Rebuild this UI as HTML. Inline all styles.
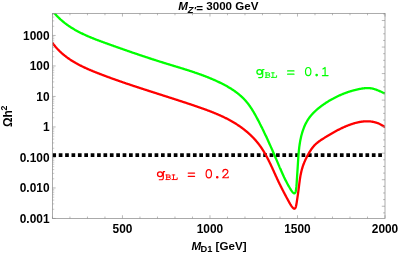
<!DOCTYPE html>
<html><head><meta charset="utf-8"><title>plot</title>
<style>
html,body{margin:0;padding:0;background:#fff;}
body{width:399px;height:254px;overflow:hidden;font-family:"Liberation Sans",sans-serif;}
svg{display:block;will-change:transform}
.lab text{font-family:"Liberation Sans",sans-serif;font-weight:bold;font-size:11.9px;fill:#000}
</style></head><body>
<svg width="399" height="254" viewBox="0 0 399 254">
<rect width="399" height="254" fill="#fff"/>
<defs><clipPath id="cp"><rect x="52.45" y="13.35" width="332.55" height="205.1"/></clipPath></defs>
<g clip-path="url(#cp)" fill="none" stroke-linejoin="round" stroke-linecap="butt">
<path d="M52.35 155.1 H382" stroke="#000" stroke-width="3.7" stroke-dasharray="3.7 2.69"/>
<path d="M52.50 10.77 L52.85 11.21 L53.20 11.65 L53.55 12.09 L53.91 12.53 L54.27 12.95 L54.63 13.38 L55.00 13.80 L55.37 14.22 L55.74 14.63 L56.11 15.04 L56.48 15.44 L56.86 15.85 L57.24 16.24 L57.63 16.64 L58.01 17.03 L58.40 17.41 L58.79 17.79 L59.18 18.17 L59.58 18.55 L59.97 18.92 L60.37 19.29 L60.78 19.65 L61.18 20.01 L61.59 20.37 L61.99 20.72 L62.40 21.07 L62.82 21.42 L63.23 21.76 L63.65 22.10 L64.07 22.44 L64.49 22.78 L64.91 23.11 L65.34 23.43 L65.76 23.76 L66.19 24.08 L66.62 24.40 L67.05 24.71 L67.49 25.02 L67.93 25.33 L68.36 25.64 L68.80 25.94 L69.25 26.24 L69.69 26.54 L70.14 26.84 L70.58 27.13 L71.03 27.42 L71.48 27.71 L71.93 27.99 L72.39 28.27 L72.84 28.55 L73.30 28.83 L73.76 29.10 L74.22 29.37 L74.68 29.64 L75.14 29.91 L75.61 30.17 L76.07 30.43 L76.54 30.69 L77.01 30.95 L77.48 31.20 L77.95 31.46 L78.42 31.71 L78.90 31.96 L79.37 32.20 L79.85 32.45 L80.33 32.69 L80.81 32.93 L81.29 33.17 L81.77 33.40 L82.25 33.64 L82.73 33.87 L83.22 34.10 L83.71 34.33 L84.19 34.56 L84.68 34.78 L85.17 35.01 L85.66 35.23 L86.15 35.45 L86.64 35.67 L87.13 35.89 L87.63 36.10 L88.12 36.32 L88.62 36.53 L89.11 36.74 L89.61 36.95 L90.11 37.16 L90.61 37.37 L91.11 37.57 L91.61 37.78 L92.11 37.98 L92.61 38.18 L93.11 38.38 L93.61 38.58 L94.11 38.78 L94.62 38.98 L95.12 39.18 L95.63 39.37 L96.13 39.57 L96.64 39.76 L97.14 39.96 L97.65 40.15 L98.16 40.34 L98.66 40.53 L99.17 40.72 L99.68 40.91 L100.19 41.10 L100.69 41.29 L101.20 41.48 L101.71 41.66 L102.22 41.85 L102.73 42.03 L103.24 42.22 L103.75 42.41 L104.26 42.59 L104.77 42.77 L105.28 42.96 L105.79 43.14 L106.30 43.33 L106.81 43.51 L107.32 43.69 L107.83 43.87 L108.34 44.06 L108.85 44.24 L109.35 44.42 L109.86 44.60 L110.37 44.79 L110.88 44.97 L111.39 45.15 L111.90 45.33 L112.41 45.51 L112.92 45.69 L113.43 45.88 L113.94 46.06 L114.45 46.24 L114.96 46.42 L115.47 46.60 L115.97 46.78 L116.48 46.96 L116.99 47.14 L117.50 47.32 L118.01 47.50 L118.52 47.68 L119.03 47.86 L119.54 48.04 L120.05 48.22 L120.55 48.40 L121.06 48.58 L121.57 48.76 L122.08 48.93 L122.59 49.11 L123.10 49.29 L123.61 49.47 L124.12 49.65 L124.62 49.82 L125.13 50.00 L125.64 50.18 L126.15 50.36 L126.66 50.53 L127.17 50.71 L127.68 50.89 L128.19 51.06 L128.69 51.24 L129.20 51.41 L129.71 51.59 L130.22 51.77 L130.73 51.94 L131.24 52.12 L131.75 52.29 L132.26 52.47 L132.77 52.64 L133.27 52.82 L133.78 52.99 L134.29 53.16 L134.80 53.34 L135.31 53.51 L135.82 53.68 L136.33 53.86 L136.84 54.03 L137.35 54.20 L137.86 54.38 L138.37 54.55 L138.88 54.72 L139.39 54.89 L139.90 55.06 L140.41 55.24 L140.92 55.41 L141.43 55.58 L141.94 55.75 L142.45 55.92 L142.96 56.09 L143.47 56.26 L143.98 56.43 L144.49 56.60 L145.00 56.77 L145.51 56.94 L146.02 57.11 L146.53 57.28 L147.04 57.45 L147.55 57.61 L148.06 57.78 L148.57 57.95 L149.09 58.12 L149.60 58.28 L150.11 58.45 L150.62 58.62 L151.13 58.78 L151.64 58.95 L152.15 59.12 L152.67 59.28 L153.18 59.45 L153.69 59.61 L154.20 59.78 L154.72 59.94 L155.23 60.11 L155.74 60.27 L156.25 60.44 L156.77 60.60 L157.28 60.76 L157.79 60.93 L158.31 61.09 L158.82 61.25 L159.33 61.42 L159.85 61.58 L160.36 61.74 L160.87 61.90 L161.39 62.06 L161.90 62.22 L162.42 62.39 L162.93 62.55 L163.45 62.71 L163.96 62.87 L164.48 63.03 L164.99 63.19 L165.51 63.35 L166.02 63.50 L166.54 63.66 L167.05 63.82 L167.57 63.98 L168.09 64.14 L168.60 64.30 L169.12 64.45 L169.64 64.61 L170.15 64.77 L170.67 64.93 L171.19 65.08 L171.70 65.24 L172.22 65.40 L172.74 65.55 L173.25 65.71 L173.77 65.87 L174.29 66.03 L174.80 66.18 L175.32 66.34 L175.84 66.50 L176.35 66.66 L176.87 66.81 L177.39 66.97 L177.91 67.13 L178.42 67.29 L178.94 67.44 L179.46 67.60 L179.97 67.76 L180.49 67.92 L181.01 68.08 L181.52 68.24 L182.04 68.40 L182.56 68.56 L183.07 68.72 L183.59 68.88 L184.10 69.04 L184.62 69.20 L185.13 69.37 L185.65 69.53 L186.17 69.69 L186.68 69.85 L187.20 70.02 L187.71 70.18 L188.23 70.35 L188.74 70.51 L189.25 70.68 L189.77 70.85 L190.28 71.01 L190.80 71.18 L191.31 71.35 L191.82 71.52 L192.33 71.69 L192.85 71.86 L193.36 72.03 L193.87 72.20 L194.38 72.37 L194.89 72.55 L195.41 72.72 L195.92 72.90 L196.43 73.07 L196.94 73.25 L197.45 73.43 L197.96 73.60 L198.46 73.78 L198.97 73.96 L199.48 74.14 L199.99 74.33 L200.50 74.51 L201.00 74.69 L201.51 74.88 L202.02 75.06 L202.52 75.25 L203.03 75.44 L203.53 75.63 L204.04 75.82 L204.54 76.01 L205.05 76.20 L205.55 76.40 L206.05 76.59 L206.55 76.79 L207.06 76.99 L207.56 77.18 L208.06 77.38 L208.56 77.58 L209.06 77.79 L209.56 77.99 L210.06 78.20 L210.55 78.40 L211.05 78.61 L211.55 78.82 L212.05 79.03 L212.54 79.24 L213.04 79.45 L213.53 79.67 L214.03 79.88 L214.52 80.10 L215.01 80.32 L215.50 80.54 L215.99 80.76 L216.49 80.99 L216.98 81.21 L217.47 81.44 L217.95 81.67 L218.44 81.90 L218.93 82.13 L219.42 82.36 L219.90 82.60 L220.39 82.84 L220.87 83.07 L221.36 83.32 L221.84 83.56 L222.32 83.80 L222.80 84.05 L223.28 84.30 L223.76 84.54 L224.24 84.80 L224.72 85.05 L225.19 85.31 L225.67 85.56 L226.14 85.82 L226.61 86.09 L227.08 86.35 L227.55 86.62 L228.02 86.89 L228.48 87.16 L228.95 87.43 L229.41 87.71 L229.87 87.99 L230.33 88.27 L230.78 88.55 L231.24 88.84 L231.69 89.13 L232.14 89.42 L232.59 89.71 L233.04 90.01 L233.48 90.31 L233.93 90.61 L234.37 90.91 L234.80 91.22 L235.24 91.53 L235.67 91.85 L236.10 92.16 L236.53 92.48 L236.96 92.80 L237.38 93.13 L237.80 93.46 L238.22 93.79 L238.63 94.12 L239.05 94.46 L239.46 94.80 L239.86 95.15 L240.27 95.49 L240.67 95.85 L241.06 96.20 L241.46 96.56 L241.85 96.92 L242.24 97.28 L242.62 97.65 L243.00 98.02 L243.38 98.40 L243.76 98.78 L244.13 99.16 L244.49 99.55 L244.86 99.94 L245.22 100.33 L245.57 100.73 L245.93 101.13 L246.28 101.54 L246.62 101.95 L246.96 102.36 L247.30 102.77 L247.64 103.19 L247.97 103.62 L248.29 104.05 L248.62 104.48 L248.94 104.91 L249.26 105.34 L249.57 105.78 L249.88 106.23 L250.19 106.67 L250.50 107.12 L250.80 107.57 L251.10 108.02 L251.40 108.48 L251.69 108.93 L251.99 109.39 L252.28 109.86 L252.56 110.32 L252.85 110.78 L253.13 111.25 L253.41 111.72 L253.69 112.19 L253.97 112.66 L254.24 113.14 L254.52 113.61 L254.79 114.09 L255.06 114.57 L255.33 115.04 L255.59 115.52 L255.86 116.00 L256.12 116.48 L256.38 116.97 L256.64 117.45 L256.90 117.93 L257.16 118.41 L257.41 118.90 L257.67 119.38 L257.92 119.86 L258.18 120.35 L258.43 120.83 L258.68 121.31 L258.93 121.80 L259.18 122.28 L259.43 122.77 L259.68 123.25 L259.93 123.73 L260.17 124.22 L260.42 124.70 L260.67 125.19 L260.91 125.67 L261.15 126.16 L261.39 126.64 L261.64 127.13 L261.88 127.61 L262.12 128.10 L262.36 128.58 L262.59 129.07 L262.83 129.55 L263.07 130.04 L263.31 130.52 L263.54 131.01 L263.78 131.50 L264.01 131.98 L264.24 132.47 L264.48 132.95 L264.71 133.44 L264.94 133.93 L265.17 134.41 L265.40 134.90 L265.63 135.39 L265.86 135.87 L266.09 136.36 L266.31 136.85 L266.54 137.33 L266.77 137.82 L266.99 138.31 L267.22 138.80 L267.44 139.28 L267.67 139.77 L267.89 140.26 L268.11 140.75 L268.34 141.24 L268.56 141.73 L268.78 142.21 L269.00 142.70 L269.22 143.19 L269.44 143.68 L269.66 144.17 L269.88 144.66 L270.10 145.15 L270.32 145.64 L270.54 146.13 L270.75 146.62 L270.97 147.11 L271.19 147.60 L271.41 148.09 L271.62 148.58 L271.84 149.07 L272.05 149.56 L272.27 150.05 L272.48 150.54 L272.70 151.04 L272.91 151.53 L273.13 152.02 L273.34 152.51 L273.55 153.00 L273.77 153.50 L273.98 153.99 L274.19 154.48 L274.41 154.97 L274.62 155.47 L274.83 155.96 L275.04 156.45 L275.25 156.95 L275.47 157.44 L275.68 157.93 L275.89 158.43 L276.10 158.92 L276.31 159.42 L276.52 159.91 L276.73 160.41 L276.94 160.90 L277.15 161.40 L277.36 161.89 L277.58 162.39 L277.79 162.89 L278.00 163.38 L278.21 163.88 L278.42 164.37 L278.63 164.87 L278.84 165.37 L279.05 165.86 L279.26 166.36 L279.48 166.85 L279.69 167.35 L279.90 167.85 L280.12 168.34 L280.33 168.84 L280.55 169.33 L280.76 169.83 L280.98 170.32 L281.20 170.82 L281.41 171.31 L281.63 171.80 L281.85 172.30 L282.07 172.79 L282.30 173.28 L282.52 173.78 L282.74 174.27 L282.97 174.76 L283.19 175.25 L283.42 175.74 L283.65 176.23 L283.88 176.72 L284.11 177.21 L284.35 177.69 L284.58 178.18 L284.82 178.67 L285.05 179.15 L285.29 179.63 L285.53 180.12 L285.78 180.60 L286.02 181.08 L286.27 181.56 L286.51 182.04 L286.76 182.52 L287.01 183.00 L287.27 183.48 L287.52 183.95 L287.78 184.43 L288.04 184.90 L288.30 185.38 L288.57 185.85 L288.83 186.32 L289.10 186.79 L289.37 187.25 L289.65 187.72 L289.92 188.19 L290.20 188.65 L290.48 189.11 L290.77 189.57 L291.06 190.03 L291.35 190.48 L291.66 190.93 L291.97 191.36 L292.31 191.79 L292.66 192.19 L293.03 192.59 L293.42 192.96 L293.84 193.29 L294.28 193.45 L294.73 193.25 L295.12 192.83 L295.41 192.35 L295.61 191.83 L295.76 191.29 L295.86 190.74 L295.95 190.19 L296.03 189.65 L296.10 189.11 L296.17 188.58 L296.24 188.05 L296.30 187.52 L296.35 186.99 L296.41 186.46 L296.45 185.93 L296.50 185.40 L296.54 184.86 L296.58 184.33 L296.62 183.79 L296.66 183.25 L296.69 182.71 L296.72 182.17 L296.76 181.63 L296.79 181.08 L296.82 180.54 L296.86 180.00 L296.89 179.46 L296.93 178.92 L296.96 178.38 L297.00 177.85 L297.03 177.31 L297.07 176.77 L297.10 176.23 L297.14 175.69 L297.17 175.15 L297.21 174.62 L297.24 174.08 L297.28 173.54 L297.31 173.00 L297.35 172.46 L297.39 171.93 L297.42 171.39 L297.46 170.85 L297.49 170.32 L297.53 169.78 L297.56 169.24 L297.60 168.70 L297.63 168.17 L297.67 167.63 L297.70 167.09 L297.73 166.56 L297.77 166.02 L297.80 165.48 L297.83 164.94 L297.87 164.40 L297.90 163.87 L297.93 163.33 L297.97 162.79 L298.00 162.25 L298.03 161.71 L298.07 161.18 L298.10 160.64 L298.13 160.10 L298.17 159.56 L298.20 159.02 L298.24 158.48 L298.28 157.95 L298.31 157.41 L298.35 156.87 L298.39 156.33 L298.43 155.79 L298.47 155.25 L298.51 154.72 L298.56 154.18 L298.60 153.64 L298.65 153.10 L298.70 152.57 L298.75 152.03 L298.80 151.49 L298.85 150.96 L298.90 150.42 L298.96 149.88 L299.02 149.35 L299.08 148.81 L299.14 148.28 L299.20 147.74 L299.27 147.21 L299.33 146.67 L299.40 146.14 L299.48 145.60 L299.55 145.07 L299.63 144.54 L299.71 144.00 L299.79 143.47 L299.88 142.94 L299.97 142.41 L300.06 141.88 L300.15 141.35 L300.25 140.82 L300.35 140.29 L300.45 139.76 L300.56 139.23 L300.67 138.70 L300.78 138.17 L300.90 137.64 L301.02 137.12 L301.14 136.59 L301.27 136.06 L301.40 135.54 L301.54 135.01 L301.68 134.49 L301.82 133.97 L301.97 133.44 L302.12 132.92 L302.27 132.40 L302.43 131.89 L302.60 131.37 L302.76 130.85 L302.94 130.34 L303.11 129.83 L303.29 129.32 L303.48 128.81 L303.67 128.30 L303.86 127.80 L304.06 127.30 L304.27 126.80 L304.48 126.30 L304.69 125.81 L304.91 125.32 L305.14 124.83 L305.37 124.34 L305.60 123.86 L305.84 123.38 L306.09 122.90 L306.34 122.43 L306.60 121.96 L306.86 121.49 L307.13 121.03 L307.40 120.57 L307.68 120.11 L307.96 119.66 L308.26 119.21 L308.55 118.77 L308.85 118.33 L309.16 117.89 L309.48 117.46 L309.80 117.03 L310.13 116.61 L310.46 116.19 L310.80 115.78 L311.14 115.37 L311.49 114.96 L311.84 114.56 L312.20 114.16 L312.56 113.76 L312.93 113.37 L313.30 112.98 L313.68 112.60 L314.06 112.22 L314.45 111.84 L314.83 111.47 L315.23 111.10 L315.63 110.73 L316.03 110.37 L316.43 110.01 L316.84 109.65 L317.25 109.30 L317.66 108.94 L318.08 108.60 L318.50 108.25 L318.92 107.91 L319.35 107.57 L319.78 107.24 L320.21 106.91 L320.64 106.58 L321.07 106.25 L321.51 105.93 L321.95 105.60 L322.39 105.29 L322.83 104.97 L323.27 104.66 L323.72 104.34 L324.16 104.04 L324.61 103.73 L325.06 103.43 L325.51 103.13 L325.96 102.83 L326.42 102.53 L326.87 102.24 L327.33 101.95 L327.79 101.66 L328.24 101.38 L328.71 101.09 L329.17 100.81 L329.63 100.54 L330.10 100.26 L330.56 99.99 L331.03 99.72 L331.50 99.45 L331.97 99.19 L332.44 98.93 L332.91 98.67 L333.39 98.42 L333.86 98.16 L334.34 97.91 L334.82 97.66 L335.30 97.42 L335.78 97.18 L336.26 96.94 L336.74 96.70 L337.23 96.47 L337.71 96.24 L338.20 96.01 L338.69 95.78 L339.18 95.56 L339.67 95.34 L340.16 95.12 L340.65 94.91 L341.15 94.69 L341.64 94.48 L342.14 94.28 L342.64 94.07 L343.13 93.87 L343.63 93.68 L344.14 93.48 L344.64 93.29 L345.14 93.10 L345.65 92.91 L346.15 92.73 L346.66 92.55 L347.17 92.37 L347.67 92.19 L348.18 92.02 L348.70 91.85 L349.21 91.69 L349.72 91.52 L350.23 91.36 L350.75 91.20 L351.27 91.05 L351.78 90.90 L352.30 90.75 L352.82 90.60 L353.34 90.46 L353.86 90.32 L354.38 90.18 L354.91 90.04 L355.43 89.91 L355.95 89.78 L356.48 89.66 L357.01 89.54 L357.53 89.42 L358.06 89.30 L358.59 89.19 L359.12 89.08 L359.65 88.97 L360.19 88.87 L360.72 88.77 L361.25 88.67 L361.78 88.58 L362.32 88.50 L362.85 88.42 L363.39 88.35 L363.92 88.29 L364.46 88.23 L364.99 88.19 L365.53 88.15 L366.06 88.12 L366.60 88.10 L367.13 88.08 L367.66 88.08 L368.20 88.09 L368.73 88.11 L369.26 88.14 L369.80 88.19 L370.33 88.24 L370.86 88.31 L371.39 88.39 L371.92 88.49 L372.44 88.59 L372.97 88.72 L373.50 88.85 L374.02 88.99 L374.54 89.15 L375.06 89.32 L375.58 89.49 L376.10 89.67 L376.61 89.86 L377.13 90.06 L377.64 90.27 L378.15 90.48 L378.66 90.69 L379.16 90.91 L379.66 91.13 L380.16 91.35 L380.66 91.58 L381.15 91.80 L381.64 92.03 L382.13 92.26 L382.61 92.48 L383.10 92.71 L383.57 92.93 L384.05 93.15 L384.52 93.36 L384.99 93.57" stroke="#00ff00" stroke-width="2.3"/>
<path d="M52.34 42.69 L52.65 43.11 L52.96 43.54 L53.27 43.95 L53.58 44.37 L53.90 44.78 L54.22 45.19 L54.54 45.59 L54.87 45.99 L55.20 46.39 L55.53 46.78 L55.86 47.17 L56.20 47.55 L56.54 47.94 L56.88 48.31 L57.22 48.69 L57.57 49.06 L57.92 49.43 L58.27 49.80 L58.62 50.16 L58.98 50.52 L59.34 50.87 L59.70 51.23 L60.06 51.58 L60.43 51.92 L60.79 52.26 L61.16 52.60 L61.54 52.94 L61.91 53.28 L62.29 53.61 L62.67 53.93 L63.05 54.26 L63.43 54.58 L63.81 54.90 L64.20 55.22 L64.59 55.53 L64.98 55.84 L65.38 56.15 L65.77 56.45 L66.17 56.76 L66.57 57.06 L66.97 57.35 L67.37 57.65 L67.78 57.94 L68.18 58.23 L68.59 58.52 L69.00 58.80 L69.41 59.08 L69.83 59.36 L70.24 59.64 L70.66 59.92 L71.08 60.19 L71.50 60.46 L71.92 60.73 L72.34 60.99 L72.77 61.26 L73.19 61.52 L73.62 61.78 L74.05 62.03 L74.48 62.29 L74.91 62.54 L75.35 62.79 L75.78 63.04 L76.22 63.28 L76.66 63.53 L77.10 63.77 L77.54 64.01 L77.98 64.25 L78.42 64.49 L78.86 64.72 L79.31 64.96 L79.76 65.19 L80.20 65.42 L80.65 65.64 L81.10 65.87 L81.55 66.10 L82.01 66.32 L82.46 66.54 L82.91 66.76 L83.37 66.98 L83.82 67.20 L84.28 67.41 L84.74 67.62 L85.20 67.84 L85.66 68.05 L86.12 68.26 L86.58 68.47 L87.04 68.67 L87.50 68.88 L87.97 69.08 L88.43 69.29 L88.89 69.49 L89.36 69.69 L89.83 69.89 L90.29 70.09 L90.76 70.29 L91.23 70.48 L91.70 70.68 L92.16 70.87 L92.63 71.07 L93.10 71.26 L93.57 71.45 L94.04 71.64 L94.51 71.83 L94.99 72.02 L95.46 72.21 L95.93 72.40 L96.40 72.58 L96.87 72.77 L97.35 72.95 L97.82 73.14 L98.29 73.32 L98.77 73.51 L99.24 73.69 L99.71 73.87 L100.19 74.06 L100.66 74.24 L101.14 74.42 L101.61 74.60 L102.08 74.78 L102.56 74.96 L103.03 75.14 L103.51 75.32 L103.98 75.50 L104.46 75.68 L104.93 75.85 L105.40 76.03 L105.88 76.21 L106.35 76.38 L106.83 76.56 L107.30 76.74 L107.78 76.91 L108.25 77.09 L108.73 77.26 L109.20 77.43 L109.68 77.61 L110.15 77.78 L110.63 77.95 L111.10 78.13 L111.58 78.30 L112.05 78.47 L112.53 78.64 L113.01 78.81 L113.48 78.98 L113.96 79.15 L114.43 79.32 L114.91 79.49 L115.38 79.66 L115.86 79.83 L116.33 80.00 L116.81 80.17 L117.29 80.34 L117.76 80.50 L118.24 80.67 L118.72 80.84 L119.19 81.01 L119.67 81.17 L120.14 81.34 L120.62 81.50 L121.10 81.67 L121.57 81.83 L122.05 82.00 L122.53 82.16 L123.00 82.33 L123.48 82.49 L123.96 82.66 L124.43 82.82 L124.91 82.98 L125.39 83.14 L125.86 83.31 L126.34 83.47 L126.82 83.63 L127.29 83.79 L127.77 83.96 L128.25 84.12 L128.73 84.28 L129.20 84.44 L129.68 84.60 L130.16 84.76 L130.63 84.92 L131.11 85.08 L131.59 85.24 L132.07 85.40 L132.54 85.56 L133.02 85.72 L133.50 85.88 L133.98 86.04 L134.45 86.19 L134.93 86.35 L135.41 86.51 L135.89 86.67 L136.37 86.83 L136.84 86.98 L137.32 87.14 L137.80 87.30 L138.28 87.46 L138.76 87.61 L139.23 87.77 L139.71 87.93 L140.19 88.08 L140.67 88.24 L141.15 88.39 L141.62 88.55 L142.10 88.71 L142.58 88.86 L143.06 89.02 L143.54 89.17 L144.02 89.33 L144.49 89.48 L144.97 89.64 L145.45 89.79 L145.93 89.95 L146.41 90.10 L146.89 90.26 L147.37 90.41 L147.84 90.57 L148.32 90.72 L148.80 90.88 L149.28 91.03 L149.76 91.18 L150.24 91.34 L150.72 91.49 L151.20 91.65 L151.67 91.80 L152.15 91.95 L152.63 92.11 L153.11 92.26 L153.59 92.41 L154.07 92.57 L154.55 92.72 L155.03 92.87 L155.51 93.03 L155.98 93.18 L156.46 93.33 L156.94 93.49 L157.42 93.64 L157.90 93.79 L158.38 93.95 L158.86 94.10 L159.34 94.25 L159.82 94.41 L160.30 94.56 L160.78 94.71 L161.26 94.87 L161.74 95.02 L162.21 95.17 L162.69 95.33 L163.17 95.48 L163.65 95.63 L164.13 95.79 L164.61 95.94 L165.09 96.09 L165.57 96.25 L166.05 96.40 L166.53 96.55 L167.01 96.71 L167.49 96.86 L167.97 97.01 L168.45 97.17 L168.93 97.32 L169.41 97.48 L169.89 97.63 L170.37 97.78 L170.85 97.94 L171.32 98.09 L171.80 98.25 L172.28 98.40 L172.76 98.55 L173.24 98.71 L173.72 98.86 L174.20 99.02 L174.68 99.17 L175.16 99.33 L175.64 99.48 L176.12 99.64 L176.60 99.79 L177.08 99.95 L177.56 100.11 L178.04 100.26 L178.52 100.42 L179.00 100.57 L179.48 100.73 L179.96 100.89 L180.44 101.04 L180.92 101.20 L181.40 101.36 L181.88 101.51 L182.36 101.67 L182.84 101.83 L183.32 101.98 L183.80 102.14 L184.28 102.30 L184.76 102.46 L185.24 102.62 L185.72 102.77 L186.20 102.93 L186.67 103.09 L187.15 103.25 L187.63 103.41 L188.11 103.57 L188.59 103.73 L189.07 103.89 L189.55 104.05 L190.03 104.21 L190.51 104.37 L190.99 104.53 L191.47 104.69 L191.95 104.85 L192.43 105.01 L192.91 105.18 L193.39 105.34 L193.87 105.50 L194.35 105.66 L194.83 105.82 L195.31 105.99 L195.79 106.15 L196.27 106.31 L196.75 106.48 L197.23 106.64 L197.71 106.81 L198.19 106.97 L198.67 107.14 L199.14 107.30 L199.62 107.47 L200.10 107.64 L200.58 107.80 L201.06 107.97 L201.54 108.14 L202.02 108.31 L202.49 108.48 L202.97 108.65 L203.45 108.82 L203.93 108.99 L204.40 109.16 L204.88 109.33 L205.36 109.51 L205.83 109.68 L206.31 109.86 L206.78 110.03 L207.26 110.21 L207.73 110.39 L208.21 110.56 L208.68 110.74 L209.16 110.92 L209.63 111.10 L210.10 111.28 L210.58 111.47 L211.05 111.65 L211.52 111.83 L211.99 112.02 L212.46 112.21 L212.93 112.39 L213.40 112.58 L213.87 112.77 L214.34 112.96 L214.81 113.15 L215.27 113.35 L215.74 113.54 L216.21 113.73 L216.67 113.93 L217.14 114.13 L217.60 114.33 L218.06 114.53 L218.53 114.73 L218.99 114.93 L219.45 115.14 L219.91 115.34 L220.37 115.55 L220.83 115.76 L221.29 115.97 L221.75 116.18 L222.21 116.39 L222.66 116.60 L223.12 116.82 L223.57 117.03 L224.03 117.25 L224.48 117.47 L224.93 117.69 L225.38 117.92 L225.83 118.14 L226.28 118.37 L226.73 118.60 L227.18 118.83 L227.63 119.06 L228.07 119.29 L228.52 119.53 L228.96 119.76 L229.41 120.00 L229.85 120.24 L230.29 120.48 L230.73 120.73 L231.17 120.97 L231.61 121.22 L232.04 121.47 L232.48 121.72 L232.92 121.98 L233.35 122.23 L233.78 122.49 L234.21 122.75 L234.64 123.01 L235.07 123.28 L235.50 123.54 L235.93 123.81 L236.35 124.08 L236.78 124.35 L237.20 124.62 L237.62 124.90 L238.04 125.18 L238.46 125.46 L238.88 125.74 L239.30 126.03 L239.71 126.31 L240.12 126.60 L240.54 126.89 L240.95 127.19 L241.36 127.48 L241.76 127.78 L242.17 128.08 L242.57 128.38 L242.98 128.68 L243.38 128.99 L243.78 129.29 L244.17 129.60 L244.57 129.92 L244.96 130.23 L245.36 130.55 L245.75 130.86 L246.14 131.18 L246.52 131.51 L246.91 131.83 L247.29 132.16 L247.67 132.49 L248.05 132.82 L248.43 133.15 L248.81 133.48 L249.18 133.82 L249.55 134.16 L249.92 134.50 L250.29 134.85 L250.65 135.19 L251.02 135.54 L251.38 135.89 L251.74 136.24 L252.09 136.59 L252.45 136.95 L252.80 137.31 L253.15 137.67 L253.50 138.03 L253.84 138.39 L254.18 138.76 L254.52 139.13 L254.86 139.50 L255.20 139.87 L255.53 140.25 L255.86 140.62 L256.19 141.00 L256.52 141.38 L256.84 141.77 L257.16 142.15 L257.48 142.54 L257.79 142.93 L258.10 143.32 L258.41 143.72 L258.72 144.11 L259.03 144.51 L259.33 144.91 L259.63 145.31 L259.92 145.72 L260.22 146.12 L260.51 146.53 L260.79 146.94 L261.08 147.36 L261.36 147.77 L261.64 148.19 L261.92 148.61 L262.20 149.03 L262.47 149.45 L262.74 149.87 L263.01 150.30 L263.27 150.72 L263.54 151.15 L263.80 151.58 L264.06 152.01 L264.32 152.45 L264.57 152.88 L264.83 153.32 L265.08 153.75 L265.33 154.19 L265.58 154.63 L265.82 155.07 L266.07 155.52 L266.31 155.96 L266.55 156.41 L266.79 156.85 L267.03 157.30 L267.27 157.75 L267.50 158.20 L267.73 158.65 L267.97 159.10 L268.20 159.55 L268.43 160.01 L268.65 160.46 L268.88 160.92 L269.11 161.37 L269.33 161.83 L269.55 162.29 L269.78 162.74 L270.00 163.20 L270.22 163.66 L270.44 164.12 L270.65 164.58 L270.87 165.04 L271.09 165.51 L271.30 165.97 L271.52 166.43 L271.73 166.89 L271.95 167.36 L272.16 167.82 L272.37 168.28 L272.59 168.75 L272.80 169.21 L273.01 169.67 L273.22 170.14 L273.43 170.60 L273.64 171.07 L273.85 171.53 L274.06 171.99 L274.27 172.46 L274.48 172.92 L274.69 173.39 L274.90 173.85 L275.11 174.31 L275.32 174.78 L275.53 175.24 L275.74 175.70 L275.95 176.17 L276.16 176.63 L276.38 177.09 L276.59 177.55 L276.80 178.01 L277.01 178.47 L277.22 178.93 L277.44 179.39 L277.65 179.85 L277.86 180.30 L278.08 180.76 L278.30 181.22 L278.51 181.67 L278.73 182.13 L278.95 182.58 L279.16 183.03 L279.38 183.48 L279.60 183.94 L279.82 184.39 L280.05 184.84 L280.27 185.29 L280.49 185.74 L280.71 186.18 L280.94 186.63 L281.16 187.08 L281.39 187.53 L281.61 187.97 L281.84 188.42 L282.07 188.87 L282.29 189.31 L282.52 189.76 L282.75 190.20 L282.98 190.65 L283.21 191.09 L283.44 191.53 L283.67 191.98 L283.90 192.42 L284.14 192.87 L284.37 193.31 L284.60 193.75 L284.84 194.20 L285.07 194.64 L285.31 195.08 L285.54 195.52 L285.78 195.97 L286.02 196.41 L286.26 196.85 L286.49 197.30 L286.73 197.74 L286.97 198.18 L287.21 198.63 L287.45 199.07 L287.69 199.51 L287.93 199.96 L288.17 200.40 L288.42 200.85 L288.66 201.29 L288.90 201.74 L289.14 202.18 L289.39 202.63 L289.64 203.07 L289.89 203.51 L290.14 203.95 L290.40 204.39 L290.67 204.82 L290.94 205.25 L291.22 205.67 L291.51 206.08 L291.81 206.48 L292.12 206.88 L292.45 207.27 L292.79 207.64 L293.14 208.01 L293.51 208.36 L293.89 208.65 L294.31 208.75 L294.73 208.58 L295.13 208.23 L295.44 207.80 L295.67 207.33 L295.84 206.83 L295.98 206.32 L296.10 205.81 L296.21 205.30 L296.31 204.80 L296.40 204.30 L296.49 203.80 L296.57 203.31 L296.65 202.81 L296.73 202.32 L296.80 201.83 L296.88 201.34 L296.95 200.84 L297.02 200.35 L297.10 199.86 L297.17 199.36 L297.25 198.87 L297.32 198.37 L297.40 197.87 L297.47 197.38 L297.55 196.88 L297.62 196.38 L297.70 195.88 L297.77 195.38 L297.84 194.88 L297.92 194.38 L297.99 193.88 L298.06 193.38 L298.13 192.88 L298.20 192.38 L298.27 191.88 L298.34 191.37 L298.40 190.87 L298.47 190.37 L298.53 189.87 L298.60 189.37 L298.66 188.87 L298.72 188.36 L298.79 187.86 L298.85 187.36 L298.91 186.86 L298.97 186.36 L299.03 185.86 L299.09 185.36 L299.15 184.86 L299.22 184.36 L299.28 183.85 L299.34 183.35 L299.41 182.85 L299.47 182.36 L299.54 181.86 L299.60 181.36 L299.67 180.86 L299.74 180.36 L299.81 179.86 L299.88 179.36 L299.96 178.87 L300.03 178.37 L300.11 177.87 L300.19 177.38 L300.27 176.88 L300.36 176.39 L300.44 175.90 L300.53 175.40 L300.62 174.91 L300.72 174.42 L300.82 173.92 L300.92 173.43 L301.02 172.94 L301.13 172.45 L301.24 171.96 L301.35 171.48 L301.47 170.99 L301.59 170.50 L301.72 170.01 L301.85 169.53 L301.98 169.04 L302.12 168.56 L302.26 168.08 L302.41 167.60 L302.56 167.11 L302.71 166.63 L302.87 166.16 L303.04 165.68 L303.21 165.20 L303.38 164.72 L303.56 164.25 L303.74 163.77 L303.92 163.30 L304.11 162.83 L304.30 162.36 L304.50 161.89 L304.69 161.42 L304.90 160.96 L305.10 160.49 L305.31 160.03 L305.53 159.57 L305.74 159.11 L305.96 158.65 L306.19 158.19 L306.41 157.73 L306.64 157.28 L306.87 156.83 L307.11 156.37 L307.34 155.93 L307.58 155.48 L307.83 155.03 L308.07 154.59 L308.32 154.15 L308.57 153.71 L308.82 153.27 L309.08 152.83 L309.34 152.40 L309.60 151.96 L309.86 151.53 L310.13 151.11 L310.40 150.68 L310.67 150.26 L310.95 149.84 L311.23 149.43 L311.52 149.02 L311.81 148.61 L312.10 148.21 L312.40 147.81 L312.71 147.42 L313.02 147.03 L313.33 146.64 L313.66 146.26 L313.98 145.89 L314.32 145.52 L314.66 145.16 L315.01 144.80 L315.37 144.45 L315.73 144.11 L316.10 143.77 L316.47 143.43 L316.86 143.11 L317.24 142.78 L317.64 142.47 L318.04 142.15 L318.44 141.84 L318.85 141.54 L319.26 141.24 L319.68 140.94 L320.09 140.65 L320.52 140.36 L320.94 140.08 L321.37 139.79 L321.80 139.51 L322.23 139.24 L322.66 138.96 L323.10 138.69 L323.53 138.42 L323.96 138.15 L324.40 137.88 L324.83 137.61 L325.27 137.35 L325.70 137.08 L326.14 136.82 L326.57 136.55 L327.00 136.29 L327.43 136.03 L327.86 135.77 L328.29 135.51 L328.73 135.25 L329.16 134.99 L329.59 134.73 L330.02 134.48 L330.45 134.22 L330.88 133.97 L331.31 133.72 L331.74 133.47 L332.17 133.22 L332.60 132.97 L333.04 132.72 L333.47 132.48 L333.90 132.24 L334.34 131.99 L334.77 131.75 L335.21 131.51 L335.64 131.27 L336.08 131.03 L336.52 130.80 L336.96 130.56 L337.40 130.33 L337.84 130.10 L338.28 129.87 L338.72 129.64 L339.17 129.42 L339.61 129.19 L340.06 128.97 L340.51 128.75 L340.96 128.53 L341.41 128.31 L341.86 128.09 L342.32 127.88 L342.78 127.66 L343.23 127.45 L343.70 127.24 L344.16 127.04 L344.62 126.83 L345.09 126.63 L345.56 126.43 L346.03 126.23 L346.50 126.03 L346.97 125.84 L347.45 125.64 L347.92 125.46 L348.40 125.27 L348.88 125.09 L349.36 124.91 L349.84 124.73 L350.33 124.55 L350.81 124.38 L351.30 124.22 L351.78 124.05 L352.27 123.89 L352.76 123.74 L353.25 123.58 L353.74 123.44 L354.23 123.29 L354.72 123.15 L355.22 123.01 L355.71 122.88 L356.21 122.76 L356.70 122.63 L357.20 122.51 L357.69 122.40 L358.19 122.29 L358.69 122.19 L359.18 122.09 L359.68 122.00 L360.18 121.91 L360.68 121.83 L361.17 121.75 L361.67 121.68 L362.17 121.61 L362.67 121.55 L363.17 121.50 L363.66 121.45 L364.16 121.41 L364.66 121.38 L365.16 121.35 L365.65 121.32 L366.15 121.31 L366.65 121.30 L367.14 121.30 L367.64 121.30 L368.13 121.31 L368.62 121.33 L369.12 121.36 L369.61 121.39 L370.10 121.43 L370.59 121.48 L371.08 121.53 L371.57 121.60 L372.05 121.67 L372.54 121.75 L373.02 121.83 L373.51 121.93 L373.99 122.03 L374.47 122.15 L374.95 122.27 L375.43 122.39 L375.91 122.53 L376.38 122.68 L376.86 122.83 L377.33 123.00 L377.80 123.17 L378.27 123.35 L378.73 123.55 L379.20 123.75 L379.66 123.96 L380.12 124.18 L380.58 124.41 L381.04 124.65 L381.49 124.90 L381.95 125.16 L382.40 125.43 L382.84 125.71 L383.29 126.00 L383.73 126.30 L384.18 126.61 L384.61 126.94 L385.05 127.27" stroke="#ff0000" stroke-width="2.3"/>
</g>
<path d="M52.45 218.45 v-1.90 M52.45 13.35 v1.90 M69.95 218.45 v-1.90 M69.95 13.35 v1.90 M87.46 218.45 v-1.90 M87.46 13.35 v1.90 M104.96 218.45 v-1.90 M104.96 13.35 v1.90 M122.46 218.45 v-3.20 M122.46 13.35 v3.20 M139.96 218.45 v-1.90 M139.96 13.35 v1.90 M157.47 218.45 v-1.90 M157.47 13.35 v1.90 M174.97 218.45 v-1.90 M174.97 13.35 v1.90 M192.47 218.45 v-1.90 M192.47 13.35 v1.90 M209.97 218.45 v-3.20 M209.97 13.35 v3.20 M227.48 218.45 v-1.90 M227.48 13.35 v1.90 M244.98 218.45 v-1.90 M244.98 13.35 v1.90 M262.48 218.45 v-1.90 M262.48 13.35 v1.90 M279.98 218.45 v-1.90 M279.98 13.35 v1.90 M297.49 218.45 v-3.20 M297.49 13.35 v3.20 M314.99 218.45 v-1.90 M314.99 13.35 v1.90 M332.49 218.45 v-1.90 M332.49 13.35 v1.90 M349.99 218.45 v-1.90 M349.99 13.35 v1.90 M367.50 218.45 v-1.90 M367.50 13.35 v1.90 M385.00 218.45 v-3.20 M385.00 13.35 v3.20 M52.45 218.45 h3.20 M52.45 187.95 h3.20 M52.45 157.45 h3.20 M52.45 126.95 h3.20 M52.45 96.45 h3.20 M52.45 65.95 h3.20 M52.45 35.45 h3.20 M385.00 212.87 h-1.90 M385.00 206.24 h-3.20 M385.00 199.61 h-1.90 M385.00 192.98 h-1.90 M385.00 186.34 h-1.90 M385.00 179.71 h-3.20 M385.00 173.08 h-1.90 M385.00 166.44 h-1.90 M385.00 159.81 h-1.90 M385.00 153.18 h-3.20 M385.00 146.55 h-1.90 M385.00 139.92 h-1.90 M385.00 133.28 h-1.90 M385.00 126.65 h-3.20 M385.00 120.02 h-1.90 M385.00 113.39 h-1.90 M385.00 106.75 h-1.90 M385.00 100.12 h-3.20 M385.00 93.49 h-1.90 M385.00 86.86 h-1.90 M385.00 80.22 h-1.90 M385.00 73.59 h-3.20 M385.00 66.96 h-1.90 M385.00 60.33 h-1.90 M385.00 53.69 h-1.90 M385.00 47.06 h-3.20 M385.00 40.43 h-1.90 M385.00 33.80 h-1.90 M385.00 27.16 h-1.90 M385.00 20.53 h-3.20 M385.00 13.90 h-1.90" stroke="#8a8a8a" stroke-width="0.6" fill="none"/>
<path d="M52.45 209.27 h1.80 M52.45 203.90 h1.80 M52.45 200.09 h1.80 M52.45 197.13 h1.80 M52.45 194.72 h1.80 M52.45 192.67 h1.80 M52.45 190.91 h1.80 M52.45 189.35 h1.80 M52.45 178.77 h1.80 M52.45 173.40 h1.80 M52.45 169.59 h1.80 M52.45 166.63 h1.80 M52.45 164.22 h1.80 M52.45 162.17 h1.80 M52.45 160.41 h1.80 M52.45 158.85 h1.80 M52.45 148.27 h1.80 M52.45 142.90 h1.80 M52.45 139.09 h1.80 M52.45 136.13 h1.80 M52.45 133.72 h1.80 M52.45 131.67 h1.80 M52.45 129.91 h1.80 M52.45 128.35 h1.80 M52.45 117.77 h1.80 M52.45 112.40 h1.80 M52.45 108.59 h1.80 M52.45 105.63 h1.80 M52.45 103.22 h1.80 M52.45 101.17 h1.80 M52.45 99.41 h1.80 M52.45 97.85 h1.80 M52.45 87.27 h1.80 M52.45 81.90 h1.80 M52.45 78.09 h1.80 M52.45 75.13 h1.80 M52.45 72.72 h1.80 M52.45 70.67 h1.80 M52.45 68.91 h1.80 M52.45 67.35 h1.80 M52.45 56.77 h1.80 M52.45 51.40 h1.80 M52.45 47.59 h1.80 M52.45 44.63 h1.80 M52.45 42.22 h1.80 M52.45 40.17 h1.80 M52.45 38.41 h1.80 M52.45 36.85 h1.80 M52.45 26.27 h1.80 M52.45 20.90 h1.80 M52.45 17.09 h1.80 M52.45 14.13 h1.80" stroke="#8a8a8a" stroke-width="0.45" fill="none"/>
<rect x="52.45" y="13.35" width="332.55" height="205.1" fill="none" stroke="#8a8a8a" stroke-width="0.72"/>
<g class="lab">
<text x="49.5" y="39.60" text-anchor="end">1000</text><text x="49.5" y="70.10" text-anchor="end">100</text><text x="49.5" y="100.60" text-anchor="end">10</text><text x="49.5" y="131.10" text-anchor="end">1</text><text x="49.5" y="161.60" text-anchor="end">0.100</text><text x="49.5" y="192.10" text-anchor="end">0.010</text><text x="49.5" y="222.60" text-anchor="end">0.001</text>
<text x="122.46" y="232.6" text-anchor="middle">500</text><text x="209.97" y="232.6" text-anchor="middle">1000</text><text x="297.49" y="232.6" text-anchor="middle">1500</text><text x="385.00" y="232.6" text-anchor="middle">2000</text>
<text x="178.2" y="10.4" style="font-size:11.6px"><tspan font-style="italic">M</tspan><tspan font-size="9.5px" dy="2.2" font-style="italic">Z&#8242;</tspan><tspan dy="-0.5" dx="0.3">=</tspan><tspan dy="-1.7"> 3000 GeV</tspan></text>
<text x="191.4" y="250.1" style="font-size:11.6px"><tspan font-style="italic">M</tspan><tspan font-size="9.3px" dy="2.2" dx="-0.5">D1</tspan><tspan dy="-2.2" dx="-0.1"> [GeV]</tspan></text>
<text transform="translate(11.8 127) rotate(-90)">&#937;h<tspan font-size="8.7px" dy="-4.4" dx="-0.4">2</tspan></text>
</g>
<g stroke="#00ff00" fill="#00ff00"><title>gBL = 0.1</title>
<g fill="none" stroke-linecap="round" stroke-linejoin="round">
<g stroke-width="1.2">
<ellipse cx="259.45" cy="72.05" rx="2.55" ry="2.4" stroke-width="1.3"/>
<path d="M264 69.5 H262.7 V75.8 Q262.7 77.6 260.6 77.6 H258.7"/>
<path d="M287.6 70.9 H294 M287.6 74.2 H294"/>
<ellipse cx="308.2" cy="71.6" rx="2.7" ry="4.1"/>
</g>
<g stroke-width="0.95">
<path d="M265.3 72.8 H268.5 A1.1 1.1 0 0 1 268.5 75 H266.1 M268.7 75 A1.2 1.2 0 0 1 268.7 77.4 H265.3 M266.1 72.8 V77.4"/>
<path d="M271.6 72.8 H274.2 M272.9 72.8 V77.4 M271.4 77.4 H276.6 V75.7"/>
</g>
</g>
<circle cx="316.65" cy="75.1" r="0.75" stroke-width="1.1"/>
<path d="M322.9 68.9 L325.1 67.5 V75.6 M322.4 75.6 H328.1" fill="none" stroke-width="1.2" stroke-linecap="round" stroke-linejoin="round"/>
</g>
<g stroke="#ff0000" fill="#ff0000" transform="translate(-99.4 102.15)"><title>gBL = 0.2</title>
<g fill="none" stroke-linecap="round" stroke-linejoin="round">
<g stroke-width="1.2">
<ellipse cx="259.45" cy="72.05" rx="2.55" ry="2.4" stroke-width="1.3"/>
<path d="M264 69.5 H262.7 V75.8 Q262.7 77.6 260.6 77.6 H258.7"/>
<path d="M287.6 70.9 H294 M287.6 74.2 H294"/>
<ellipse cx="308.2" cy="71.6" rx="2.7" ry="4.1"/>
</g>
<g stroke-width="0.95">
<path d="M265.3 72.8 H268.5 A1.1 1.1 0 0 1 268.5 75 H266.1 M268.7 75 A1.2 1.2 0 0 1 268.7 77.4 H265.3 M266.1 72.8 V77.4"/>
<path d="M271.6 72.8 H274.2 M272.9 72.8 V77.4 M271.4 77.4 H276.6 V75.7"/>
</g>
</g>
<circle cx="316.65" cy="75.1" r="0.75" stroke-width="1.1"/>
<path d="M322.3 69.7 C322.3 66.5 327.3 66.5 327.3 69.6 C327.3 71.6 324 73.2 322.1 75.6 H327.6 V74.6" fill="none" stroke-width="1.2" stroke-linecap="round" stroke-linejoin="round"/>
</g>
</svg>
</body></html>
